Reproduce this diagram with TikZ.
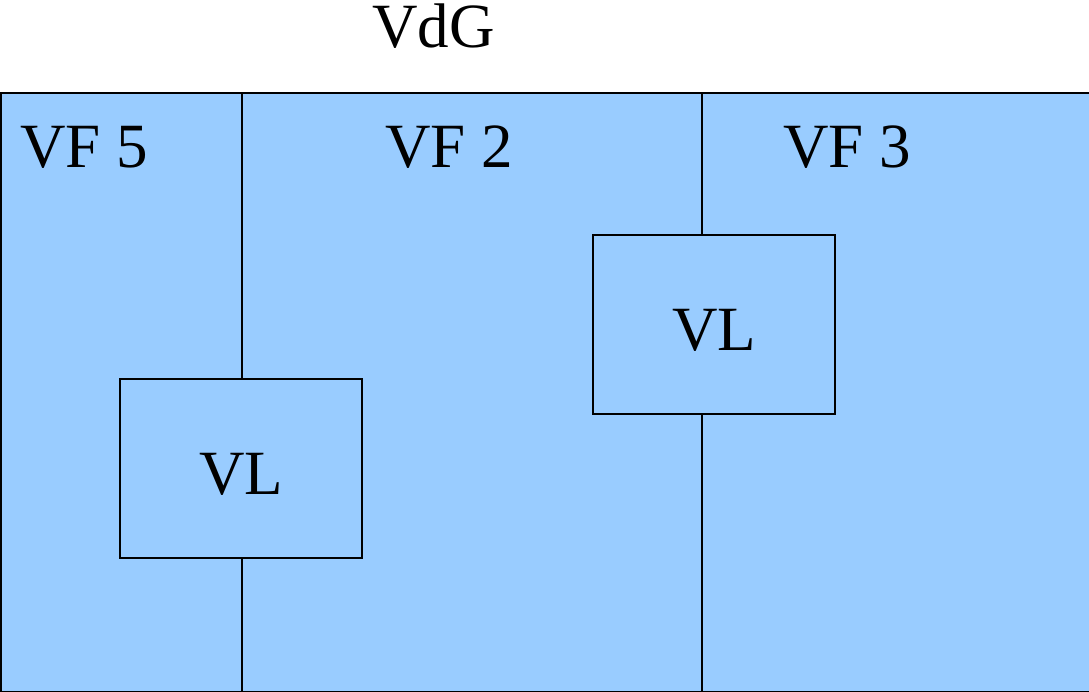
\documentclass[tikz,border=0pt]{standalone}
\usepackage{fontspec}
\setmainfont{Liberation Serif}
\usetikzlibrary{positioning}
\definecolor{fieldblue}{HTML}{99CCFF}

\begin{document}
\begin{tikzpicture}[x=1pt, y=-1pt,
    field/.style={draw, line width=1.5pt, fill=fieldblue, inner sep=0pt},
    big/.style={font=\fontsize{63}{70}\selectfont},
    lbl/.style={big, inner sep=0pt, anchor=base west},
    vlbox/.style={field, big, minimum width=242pt, minimum height=179pt, text height=53pt}]
  \useasboundingbox (0,0) rectangle (1089,691);
  % the whole area with its three fields
  \node[field, anchor=north west, minimum width=1089pt, minimum height=599pt] (vdg) at (0,92) {};
  \node[lbl] (vdglbl) at (372,47) {VdG};
  \node[lbl] (vf5) at (20,167) {VF 5};
  \node[lbl] (vf2) at (385,167) {VF 2};
  \node[lbl] (vf3) at (783,167) {VF 3};
  % field borders
  \coordinate (top1) at (242,92);
  \coordinate (bot1) at (242,691);
  \coordinate (top2) at (702,92);
  \coordinate (bot2) at (702,691);
  \node[vlbox] (vl1) at (241,468.5) {VL};
  \node[vlbox] (vl2) at (714,324.5) {VL};
  \draw[line width=1.5pt] (top1) -- (vl1.north -| top1);
  \draw[line width=1.5pt] (vl1.south -| bot1) -- (bot1);
  \draw[line width=1.5pt] (top2) -- (vl2.north -| top2);
  \draw[line width=1.5pt] (vl2.south -| bot2) -- (bot2);
\end{tikzpicture}
\end{document}
